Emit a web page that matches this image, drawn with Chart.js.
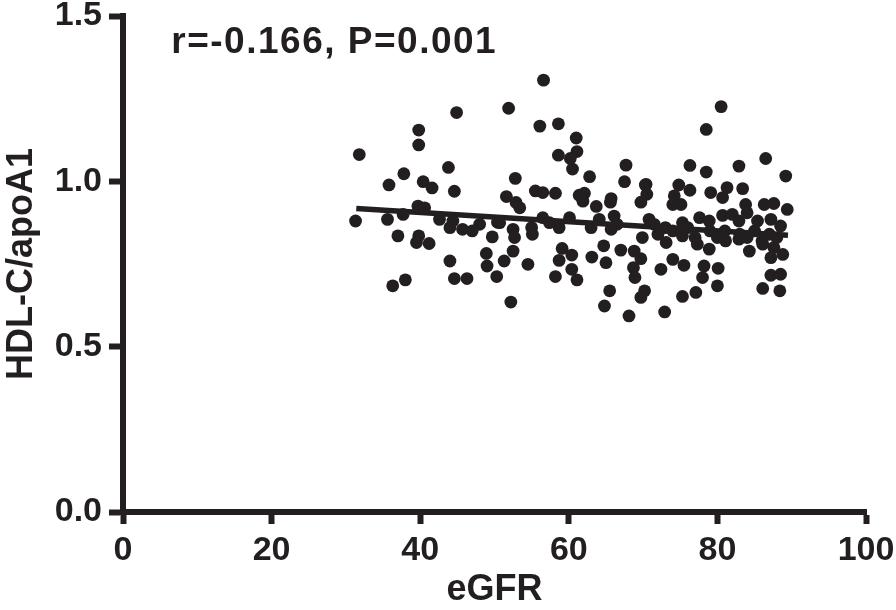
<!DOCTYPE html>
<html>
<head>
<meta charset="utf-8">
<script src="https://cdn.jsdelivr.net/npm/chart.js@4.4.1/dist/chart.umd.min.js"></script>
<style>
  html, body { margin: 0; padding: 0; background: #fff; }
  #wrap { width: 896px; height: 610px; }
</style>
</head>
<body>
<div id="wrap"><canvas id="graphique"></canvas></div>
<script>
// eGFR (x) et HDL-C/apoA1 (y)
const egfr = [
  44.9, 39.8, 39.8, 31.8, 43.8, 37.8, 35.8, 40.4, 41.6, 44.6,
  56.6, 51.9, 56.1, 58.6, 61.0, 58.6, 61.1, 60.2, 60.5, 62.8,
  67.7, 67.5, 70.3, 52.8, 55.5, 56.5, 58.2, 51.6, 61.4, 62.1, 65.7,
  80.5, 78.5, 76.3, 78.5, 82.9, 86.5, 89.2, 70.4, 70.5, 74.8,
  76.3, 79.1, 81.3, 83.4, 80.7, 74.2,
  31.3, 35.6, 37.7, 39.7, 40.6, 42.6, 44.0, 45.7, 44.4, 37.0,
  39.8, 39.5, 41.2, 44.0, 44.6, 46.3, 38.0, 36.3, 49.7, 48.9,
  49.0, 50.3, 50.4,
  52.9, 53.4, 61.9, 63.7, 65.6, 69.7, 50.7, 52.5, 56.5, 57.4,
  60.1, 58.7, 55.1, 52.7, 64.1, 66.1, 65.7, 69.9, 52.5, 51.3,
  54.5, 59.1, 60.4, 58.7, 60.4, 61.1, 58.2, 63.1, 64.7, 65.0,
  67.0, 68.8, 69.7, 68.7, 68.9, 70.2, 69.7, 65.5, 64.8, 68.1, 52.2,
  74.0, 75.1, 83.8, 86.3, 87.6, 89.4, 70.8, 77.6, 78.9, 80.7,
  82.0, 82.9, 84.0, 85.4, 87.2, 88.5, 73.1, 75.3, 75.3, 77.3,
  78.9, 81.1, 82.9, 84.3, 86.1, 87.6, 88.8, 87.2, 74.0, 75.5,
  72.4, 78.2, 80.1, 78.0, 80.0, 87.2, 88.5, 86.1, 88.4, 77.1,
  75.3, 72.9,
  71.5, 73.0, 76.0, 79.0, 81.0, 83.0, 85.0, 87.0, 77.0, 80.0,
  84.0, 86.0, 88.0, 72.0, 74.0, 66.5, 63.0, 55.0, 48.0, 47.0
];
const ratio = [
  1.208, 1.155, 1.110, 1.081, 1.042, 1.023, 0.989, 0.999, 0.980, 0.970,
  1.306, 1.221, 1.167, 1.174, 1.131, 1.079, 1.090, 1.069, 1.037, 1.014,
  1.049, 0.999, 0.989, 1.009, 0.971, 0.966, 0.964, 0.954, 0.958, 0.964, 0.948,
  1.226, 1.157, 1.048, 1.028, 1.046, 1.069, 1.016, 0.991, 0.961, 0.989,
  0.973, 0.966, 0.981, 0.978, 0.951, 0.956,
  0.880, 0.885, 0.900, 0.925, 0.920, 0.885, 0.860, 0.855, 0.880, 0.835,
  0.835, 0.815, 0.812, 0.759, 0.706, 0.706, 0.702, 0.684, 0.832, 0.782,
  0.744, 0.712, 0.876,
  0.936, 0.920, 0.940, 0.924, 0.937, 0.937, 0.875, 0.855, 0.890, 0.875,
  0.890, 0.860, 0.840, 0.830, 0.885, 0.895, 0.855, 0.830, 0.789, 0.759,
  0.749, 0.797, 0.777, 0.761, 0.734, 0.702, 0.712, 0.771, 0.805, 0.754,
  0.792, 0.789, 0.766, 0.739, 0.709, 0.669, 0.649, 0.669, 0.623, 0.593, 0.635,
  0.930, 0.930, 0.930, 0.930, 0.933, 0.915, 0.885, 0.890, 0.880, 0.897,
  0.900, 0.880, 0.905, 0.880, 0.885, 0.865, 0.815, 0.875, 0.835, 0.810,
  0.795, 0.820, 0.825, 0.789, 0.810, 0.800, 0.779, 0.769, 0.764, 0.746,
  0.734, 0.744, 0.737, 0.709, 0.684, 0.716, 0.719, 0.676, 0.669, 0.664,
  0.652, 0.605,
  0.870, 0.860, 0.860, 0.850, 0.850, 0.840, 0.850, 0.840, 0.830, 0.830,
  0.830, 0.820, 0.830, 0.840, 0.850, 0.870, 0.860, 0.860, 0.870, 0.850
];

// Droite de régression (extrémités)
const droiteX = [31.4, 89.5];
const droiteY = [0.918, 0.837];

const xTicks = [0, 20, 40, 60, 80, 100];
const yTicks = [0.0, 0.5, 1.0, 1.5];
const annotation = 'r=-0.166, P=0.001';

const noir = '#231f20';
const police = "'Liberation Sans', Arial, Helvetica, sans-serif";

const points = egfr.map((x, i) => ({ x: x, y: ratio[i] }));
const droite = droiteX.map((x, i) => ({ x: x, y: droiteY[i] }));

// Texte r et P en haut à gauche
const pluginTexte = {
  id: 'texteCorrelation',
  afterDraw(chart) {
    const ctx = chart.ctx;
    const sx = chart.scales.x;
    const sy = chart.scales.y;
    ctx.save();
    ctx.fillStyle = noir;
    ctx.font = 'bold 37px ' + police;
    ctx.letterSpacing = '1.5px';
    ctx.textAlign = 'left';
    ctx.textBaseline = 'middle';
    ctx.fillText(annotation, sx.getPixelForValue(6.5), sy.getPixelForValue(1.42));
    ctx.restore();
  }
};

new Chart(document.getElementById('graphique'), {
  type: 'scatter',
  data: {
    datasets: [
      {
        label: 'points',
        data: points,
        backgroundColor: noir,
        borderColor: noir,
        pointRadius: 6.4,
        pointHoverRadius: 6.4,
        borderWidth: 0
      },
      {
        type: 'line',
        label: 'régression',
        data: droite,
        borderColor: noir,
        borderWidth: 5.5,
        pointRadius: 0,
        fill: false
      }
    ]
  },
  options: {
    responsive: true,
    maintainAspectRatio: false,
    animation: false,
    events: [],
    layout: { padding: { top: 16, right: 30, left: 0, bottom: 0 } },
    plugins: {
      legend: { display: false },
      tooltip: { enabled: false }
    },
    scales: {
      x: {
        type: 'linear',
        min: 0,
        max: 100,
        afterBuildTicks(scale) { scale.ticks = xTicks.map(v => ({ value: v })); },
        afterFit(scale) {
          scale.height = 98;
          scale.paddingLeft = 0;
          scale.paddingRight = 0;
        },
        border: { display: true, color: noir, width: 6 },
        grid: { drawOnChartArea: false, drawTicks: true, tickLength: 12, tickWidth: 6, tickColor: noir },
        ticks: {
          color: noir,
          padding: 10,
          font: { family: police, size: 34, weight: 'bold', lineHeight: 1 },
          callback: v => String(v)
        },
        title: {
          display: true,
          text: 'eGFR',
          color: noir,
          font: { family: police, size: 36, weight: 'bold', lineHeight: 1 },
          padding: { top: 0, bottom: 2 }
        }
      },
      y: {
        type: 'linear',
        min: 0,
        max: 1.5,
        afterBuildTicks(scale) { scale.ticks = yTicks.map(v => ({ value: v })); },
        afterFit(scale) {
          scale.width = 123;
          scale.paddingTop = 0;
          scale.paddingBottom = 0;
        },
        border: { display: true, color: noir, width: 6 },
        grid: { drawOnChartArea: false, drawTicks: true, tickLength: 14, tickWidth: 6, tickColor: noir },
        ticks: {
          color: noir,
          padding: 7,
          font: { family: police, size: 34, weight: 'bold', lineHeight: 1 },
          callback: v => v.toFixed(1)
        },
        title: {
          display: true,
          text: 'HDL-C/apoA1',
          color: noir,
          font: { family: police, size: 36, weight: 'bold', lineHeight: 1 },
          padding: { top: 4, bottom: 0 }
        }
      }
    }
  },
  plugins: [pluginTexte]
});
</script>
</body>
</html>
